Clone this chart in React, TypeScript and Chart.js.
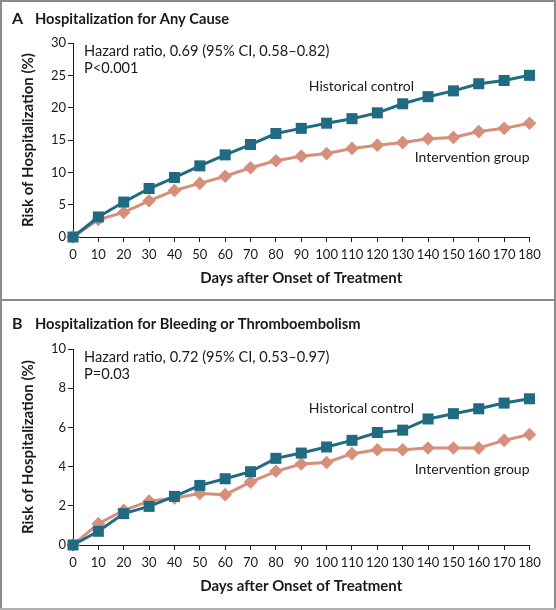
import React, { useEffect, useRef } from 'react';
import { Chart, registerables } from 'chart.js';

Chart.register(...registerables);

const FONT = 'Lato, "Noto Sans", sans-serif';
const TEXT = '#1a1a1a';
const TEAL = '#206b82';
const SALMON = '#d68f7a';

const days = [0, 10, 20, 30, 40, 50, 60, 70, 80, 90, 100, 110, 120, 130, 140, 150, 160, 170, 180];

const anyCauseControl = [0, 3.1, 5.4, 7.5, 9.2, 11.0, 12.7, 14.3, 16.0, 16.8, 17.6, 18.3, 19.2, 20.6, 21.7, 22.6, 23.7, 24.2, 25.0];
const anyCauseIntervention = [0, 2.7, 3.8, 5.6, 7.2, 8.3, 9.4, 10.7, 11.8, 12.5, 12.9, 13.7, 14.2, 14.6, 15.2, 15.4, 16.3, 16.8, 17.6];

const bleedControl = [0, 0.7, 1.6, 1.97, 2.48, 3.04, 3.38, 3.74, 4.42, 4.69, 5.0, 5.34, 5.74, 5.86, 6.43, 6.7, 6.95, 7.24, 7.46];
const bleedIntervention = [0, 1.09, 1.77, 2.24, 2.4, 2.63, 2.57, 3.21, 3.76, 4.13, 4.21, 4.66, 4.86, 4.86, 4.95, 4.95, 4.95, 5.34, 5.64];

const yMaxA = 30;
const yStepA = 5;
const yMaxB = 10;
const yStepB = 2;
const xMax = 180;
const xStep = 10;

const panelLetters = ['A', 'B'];
const panelTitles = ['Hospitalization for Any Cause', 'Hospitalization for Bleeding or Thromboembolism'];
const hazardTexts = ['Hazard ratio, 0.69 (95% CI, 0.58\u20130.82)', 'Hazard ratio, 0.72 (95% CI, 0.53\u20130.97)'];
const pTexts = ['P<0.001', 'P=0.03'];
const seriesNames = ['Historical control', 'Intervention group'];
const xTitle = 'Days after Onset of Treatment';
const yTitle = 'Risk of Hospitalization (%)';

type PanelCfg = {
  letter: string;
  title: string;
  hazard: string;
  p: string;
  control: number[];
  intervention: number[];
  yMax: number;
  yStep: number;
  titleY: number;
  controlLabel: [number, number];
  interventionLabelY: number;
  padTop: number;
  padBottom: number;
  height: number;
};

const panels: PanelCfg[] = [
  {
    letter: panelLetters[0],
    title: panelTitles[0],
    hazard: hazardTexts[0],
    p: pTexts[0],
    control: anyCauseControl,
    intervention: anyCauseIntervention,
    yMax: yMaxA,
    yStep: yStepA,
    titleY: 19,
    controlLabel: [93, 23.35],
    interventionLabelY: 12.3,
    padTop: 43,
    padBottom: 12,
    height: 299,
  },
  {
    letter: panelLetters[1],
    title: panelTitles[1],
    hazard: hazardTexts[1],
    p: pTexts[1],
    control: bleedControl,
    intervention: bleedIntervention,
    yMax: yMaxB,
    yStep: yStepB,
    titleY: 23,
    controlLabel: [93, 6.95],
    interventionLabelY: 3.84,
    padTop: 48,
    padBottom: 15,
    height: 309,
  },
];

function makeTextPlugin(cfg: PanelCfg) {
  return {
    id: 'panelText' + cfg.letter,
    afterDraw(chart: any) {
      const { ctx } = chart;
      const x = chart.scales.x;
      const y = chart.scales.y;
      ctx.save();
      ctx.fillStyle = TEXT;
      ctx.textBaseline = 'middle';
      ctx.textAlign = 'left';
      ctx.font = `bold 16px ${FONT}`;
      ctx.fillText(cfg.letter, 12, cfg.titleY);
      ctx.font = `bold 14.7px ${FONT}`;
      ctx.fillText(cfg.title, 35, cfg.titleY);
      ctx.font = `14.6px ${FONT}`;
      ctx.fillText(cfg.hazard, x.left + 11, y.top + 8);
      ctx.fillText(cfg.p, x.left + 11, y.top + 25);
      ctx.font = `14px ${FONT}`;
      ctx.fillText(seriesNames[0], x.getPixelForValue(cfg.controlLabel[0]), y.getPixelForValue(cfg.controlLabel[1]));
      ctx.textAlign = 'right';
      ctx.fillText(seriesNames[1], x.right, y.getPixelForValue(cfg.interventionLabelY));
      ctx.restore();
    },
  };
}

function Panel({ cfg }: { cfg: PanelCfg }) {
  const ref = useRef<HTMLCanvasElement | null>(null);
  useEffect(() => {
    if (!ref.current) return;
    const chart = new Chart(ref.current, {
      type: 'line',
      data: {
        datasets: [
          {
            label: seriesNames[0],
            data: days.map((d, i) => ({ x: d, y: cfg.control[i] })),
            borderColor: TEAL,
            backgroundColor: TEAL,
            borderWidth: 3,
            pointStyle: 'rect',
            pointRadius: 7.8,
            pointBorderWidth: 0,
            tension: 0,
            clip: false,
          },
          {
            label: seriesNames[1],
            data: days.map((d, i) => ({ x: d, y: cfg.intervention[i] })),
            borderColor: SALMON,
            backgroundColor: SALMON,
            borderWidth: 3,
            pointStyle: 'rectRot',
            pointRadius: 6.8,
            pointBorderWidth: 0,
            tension: 0,
            clip: false,
          },
        ],
      },
      options: {
        responsive: false,
        animation: false,
        layout: { padding: { left: 0, right: 26.5, top: cfg.padTop, bottom: cfg.padBottom } },
        plugins: { legend: { display: false }, tooltip: { enabled: false }, title: { display: false } },
        scales: {
          x: {
            type: 'linear',
            min: 0,
            max: xMax,
            ticks: {
              stepSize: xStep,
              autoSkip: false,
              maxRotation: 0,
              padding: 5,
              color: TEXT,
              font: { family: FONT, size: 13 },
            },
            grid: { drawOnChartArea: false, drawTicks: true, tickLength: 5, color: TEXT, lineWidth: 1 },
            border: { display: true, color: TEXT, width: 1 },
            title: {
              display: true,
              text: xTitle,
              color: TEXT,
              font: { family: FONT, size: 15, weight: 'bold' },
              padding: { top: 0, bottom: 0 },
            },
            afterFit(scale: any) {
              scale.height = 50;
            },
          },
          y: {
            type: 'linear',
            min: 0,
            max: cfg.yMax,
            ticks: {
              stepSize: cfg.yStep,
              padding: 2,
              color: TEXT,
              font: { family: FONT, size: 13 },
            },
            grid: { drawOnChartArea: false, drawTicks: true, tickLength: 5, color: TEXT, lineWidth: 1 },
            border: { display: true, color: TEXT, width: 1 },
            title: {
              display: true,
              text: yTitle,
              color: TEXT,
              font: { family: FONT, size: 15, weight: 'bold' },
              padding: { top: 19, bottom: 0 },
            },
            afterFit(scale: any) {
              scale.width = 73;
            },
          },
        },
      },
      plugins: [makeTextPlugin(cfg)],
    } as any);
    return () => chart.destroy();
  }, [cfg]);
  return <canvas ref={ref} width={556} height={cfg.height} style={{ display: 'block', width: 556, height: cfg.height }} />;
}

export default function App() {
  useEffect(() => {
    document.body.style.margin = '0';
  }, []);
  const line = '#8a8a8a';
  const abs = (s: React.CSSProperties): React.CSSProperties => ({ position: 'absolute', background: line, ...s });
  return (
    <div style={{ position: 'relative', width: 556, height: 610, background: '#fff', overflow: 'hidden' }}>
      <div style={{ position: 'absolute', left: 0, top: 0 }}>
        <Panel cfg={panels[0]} />
      </div>
      <div style={{ position: 'absolute', left: 0, top: 301 }}>
        <Panel cfg={panels[1]} />
      </div>
      <div style={abs({ left: 0, top: 0, width: 556, height: 2 })} />
      <div style={abs({ left: 0, top: 0, width: 2, height: 610 })} />
      <div style={abs({ left: 554, top: 0, width: 2, height: 610 })} />
      <div style={abs({ left: 0, top: 299, width: 556, height: 2 })} />
      <div style={abs({ left: 0, top: 608, width: 556, height: 2, background: '#b0b0b0' })} />
    </div>
  );
}
